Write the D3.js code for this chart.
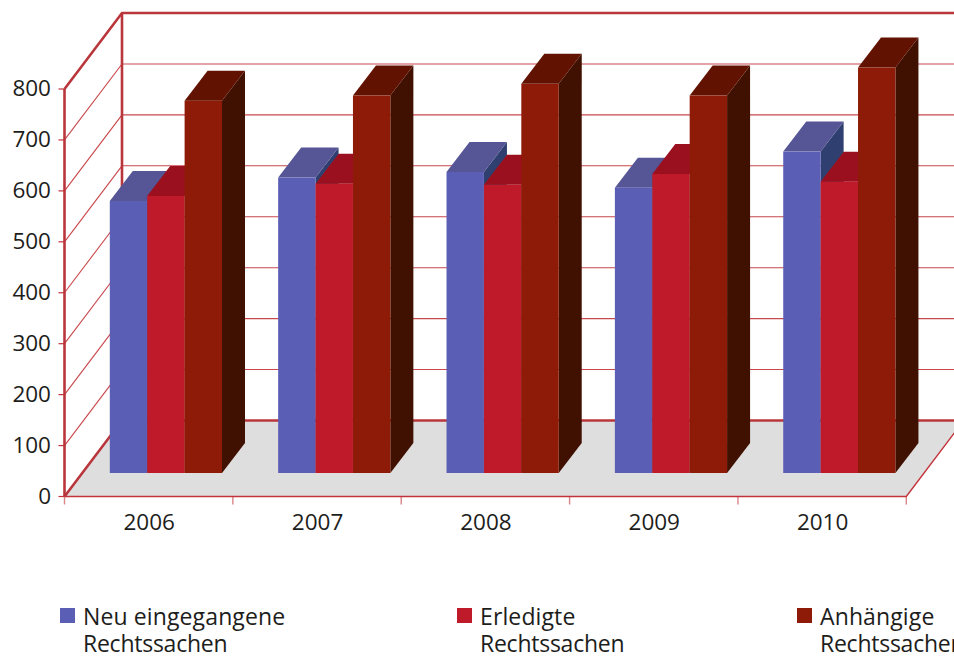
<!DOCTYPE html>
<html lang="de">
<head>
<meta charset="utf-8">
<script src="https://cdn.jsdelivr.net/npm/d3@7"></script>
<style>
  html, body { margin: 0; padding: 0; background: #fff; overflow: hidden; }
  svg { display: block; }
  text { font-family: "Open Sans", sans-serif; fill: #1d1d1b; }
</style>
</head>
<body>
<svg id="chart" width="954" height="657"></svg>
<script>
// Gerichtsstatistik 2006-2010, drawn as a 3D column chart
const years = ["2006", "2007", "2008", "2009", "2010"];
const yTicks = [0, 100, 200, 300, 400, 500, 600, 700, 800];
const neuEingegangen = [534, 580, 591, 560, 631];
const erledigt = [544, 568, 566, 587, 572];
const anhaengig = [731, 741, 764, 741, 796];
const seriesNames = [["Neu eingegangene", "Rechtssachen"], ["Erledigte", "Rechtssachen"], ["Anhängige", "Rechtssachen"]];

// front, top and side faces for each series
const seriesFaces = [
  { front: "#5b5eb5", top: "#565596", side: "#2f4070" },
  { front: "#be1a2a", top: "#9a101f", side: "#6f0f18" },
  { front: "#8e1a08", top: "#611200", side: "#401000" }
];
const seriesValues = [neuEingegangen, erledigt, anhaengig];

const W = 954;
const svg = d3.select("#chart");

const x = d3.scaleBand().domain(years).range([64.5, 906.3]);
const y = d3.scaleLinear().domain([0, 800]).range([496.5, 89]);

// Oblique projection: wall depth, and where the columns stand on the floor
const wall = { dx: 57.5, dy: -76 };
const stand = { dx: 45.3, dy: -23.5 };
const bar = { width: 37.4, dx: 23, dy: -30 };

const gridColor = "#c2343a";
const frameColor = "#b9373c";
const line = d3.line();

// Floor
svg.append("path")
  .attr("d", line([
    [x.range()[0], y(0)], [x.range()[1], y(0)],
    [x.range()[1] + wall.dx, y(0) + wall.dy], [x.range()[0] + wall.dx, y(0) + wall.dy]
  ]) + "Z")
  .attr("fill", "#dedede");

// Gridlines on the side and back walls
const grid = svg.append("g").attr("fill", "none").attr("stroke", gridColor);
yTicks.slice(1, -1).forEach(t => {
  grid.append("path")
    .attr("d", line([[x.range()[0], y(t)], [x.range()[0] + wall.dx, y(t) + wall.dy], [W + 10, y(t) + wall.dy]]))
    .attr("stroke-width", 1.1)
    .attr("stroke-opacity", 0.9);
});

// Heavy frame of the walls
const frame = svg.append("g").attr("fill", "none").attr("stroke", frameColor).attr("stroke-width", 2.6);
const x0 = x.range()[0], x1 = x.range()[1];
frame.append("path").attr("d", line([[x0, y(800)], [x0 + wall.dx, y(800) + wall.dy], [W + 10, y(800) + wall.dy]]));
frame.append("path").attr("d", line([[x0 + wall.dx, y(800) + wall.dy], [x0 + wall.dx, y(0) + wall.dy]]));
frame.append("path").attr("d", line([[x0, y(800)], [x0, y(0)]]));
frame.append("path").attr("d", line([[x0, y(0)], [x0 + wall.dx, y(0) + wall.dy], [W + 10, y(0) + wall.dy]]));

// Front edge of the floor and its right-hand side
svg.append("path")
  .attr("d", line([[x0, y(0)], [x1, y(0)], [x1 + wall.dx, y(0) + wall.dy]]))
  .attr("fill", "none").attr("stroke", gridColor).attr("stroke-width", 1.4);

// Columns, painted left to right so each one overlaps the side of its neighbour
const columns = svg.append("g");
years.forEach((year, i) => {
  seriesValues.forEach((values, s) => {
    const left = x(year) + stand.dx + s * bar.width;
    const right = left + bar.width;
    const bottom = y(0) + stand.dy;
    const top = y(values[i]) + stand.dy;
    const faces = seriesFaces[s];
    columns.append("path").attr("fill", faces.side).attr("d", line([
      [right, top], [right + bar.dx, top + bar.dy], [right + bar.dx, bottom + bar.dy], [right, bottom]
    ]) + "Z");
    columns.append("path").attr("fill", faces.top).attr("d", line([
      [left, top], [left + bar.dx, top + bar.dy], [right + bar.dx, top + bar.dy], [right, top]
    ]) + "Z");
    columns.append("rect").attr("fill", faces.front)
      .attr("x", left).attr("y", top).attr("width", bar.width).attr("height", bottom - top);
  });
});

// Value axis
const yAxis = svg.append("g");
yAxis.selectAll("line").data(yTicks).join("line")
  .attr("x1", x0 - 6).attr("x2", x0)
  .attr("y1", d => y(d)).attr("y2", d => y(d))
  .attr("stroke", gridColor).attr("stroke-width", 1.2);
yAxis.selectAll("text").data(yTicks).join("text")
  .attr("x", x0 - 13.5).attr("y", d => y(d) - 1.5)
  .attr("text-anchor", "end").attr("dominant-baseline", "central")
  .attr("font-size", 22.5).text(d => d);

// Category axis
const xAxis = svg.append("g");
const xEdges = years.map(d => x(d)).concat(x1);
xAxis.selectAll("line").data(xEdges).join("line")
  .attr("x1", d => d).attr("x2", d => d)
  .attr("y1", y(0)).attr("y2", y(0) + 8)
  .attr("stroke", gridColor).attr("stroke-opacity", 0.6).attr("stroke-width", 1.4);
xAxis.selectAll("text").data(years).join("text")
  .attr("x", d => x(d) + x.bandwidth() / 2 + 0.5).attr("y", y(0) + 33)
  .attr("text-anchor", "middle").attr("font-size", 22.5).text(d => d);

// Legend: two-line labels, the second line set slightly tighter
const legendX = [60, 457, 797];
const legend = svg.append("g");
seriesNames.forEach((lines, s) => {
  legend.append("rect").attr("x", legendX[s]).attr("y", 608)
    .attr("width", 15).attr("height", 15).attr("fill", seriesFaces[s].front);
  lines.forEach((t, k) => {
    legend.append("text").attr("x", legendX[s] + 23).attr("y", 625 + k * 27)
      .attr("font-size", 23)
      .attr("letter-spacing", k === 0 ? 0.12 : -0.25)
      .text(t);
  });
});
</script>
</body>
</html>
